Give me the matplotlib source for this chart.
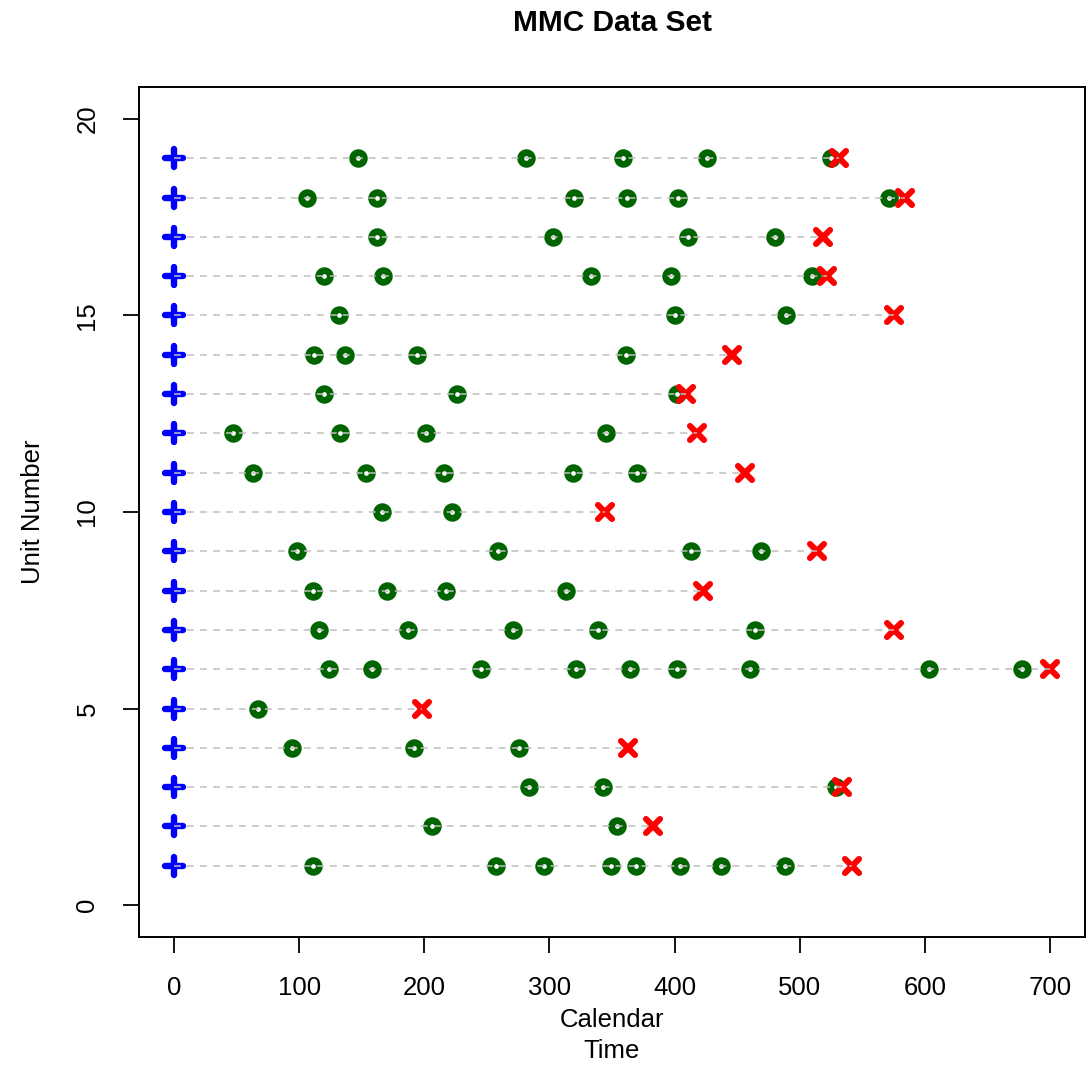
import matplotlib
matplotlib.use("Agg")
from matplotlib import pyplot as plt
from matplotlib.markers import MarkerStyle

plt.rcParams['font.family'] = ['Liberation Sans', 'DejaVu Sans']

units = list(range(1, 20))
end_times = [542, 383, 534, 363, 198, 700, 575, 423, 514, 344,
             456, 418, 409, 446, 575, 522, 519, 584, 531]
event_times = [
    [111, 257, 296, 349, 369, 404, 437, 488],
    [206, 354],
    [284, 343, 529],
    [94, 192, 276],
    [67],
    [124, 158, 245, 321, 364, 402, 460, 603, 678],
    [116, 187, 271, 339, 464],
    [111, 170, 217, 313],
    [98, 259, 413, 469],
    [166, 222],
    [63, 153, 216, 319, 370],
    [47, 133, 201, 345],
    [120, 226, 402],
    [112, 137, 194, 361],
    [132, 400, 489],
    [120, 167, 333, 397, 510],
    [162, 303, 411, 480],
    [106, 162, 320, 362, 403, 571],
    [147, 281, 359, 426, 525],
]
x_ticks = [0, 100, 200, 300, 400, 500, 600, 700]
y_ticks = [0, 5, 10, 15, 20]

plus_m = MarkerStyle('+', capstyle='round')
cross_m = MarkerStyle('x', capstyle='round')

fig = plt.figure(figsize=(10.86, 10.68), dpi=100)
ax = fig.add_axes([0.128, 0.1231, 0.8711, 0.7950])

for u, end, evs in zip(units, end_times, event_times):
    # start marker
    ax.plot([0], [u], linestyle='none', marker=plus_m, ms=13, mew=4.6,
            color='blue', zorder=3)
    # recurrences
    ax.plot(evs, [u] * len(evs), linestyle='none', marker='o', ms=8.4,
            mew=4.9, mec='#006400', mfc='white', zorder=3)
    # end of observation
    ax.plot([end], [u], linestyle='none', marker=cross_m, ms=9.5, mew=4.4,
            color='red', zorder=4)
    # dashed line over the markers
    ax.plot([0, end], [u, u], color='#BEBEBE', lw=1.1,
            dashes=(4.5, 4.0), zorder=5)

ax.set_xlim(-28, 728)
ax.set_ylim(-0.8, 20.8)
ax.set_xticks(x_ticks)
ax.set_yticks(y_ticks)
ax.set_xticklabels([str(t) for t in x_ticks], fontsize=18.5)
ax.set_yticklabels([str(t) for t in y_ticks], fontsize=18.5, rotation=90,
                   va='center')
ax.tick_params(length=11.5, width=1.3, pad=17)

for sp in ax.spines.values():
    sp.set_linewidth(1.4)

ax.set_xlabel('Calendar\nTime', fontsize=18.5, linespacing=1.35, labelpad=6)
ax.set_ylabel('Unit Number', fontsize=18.5, labelpad=22)
fig.text(0.5636, 0.978, 'MMC Data Set', fontsize=21.5, fontweight='bold',
         ha='center', va='center')

fig.savefig('out.png', dpi=100)
